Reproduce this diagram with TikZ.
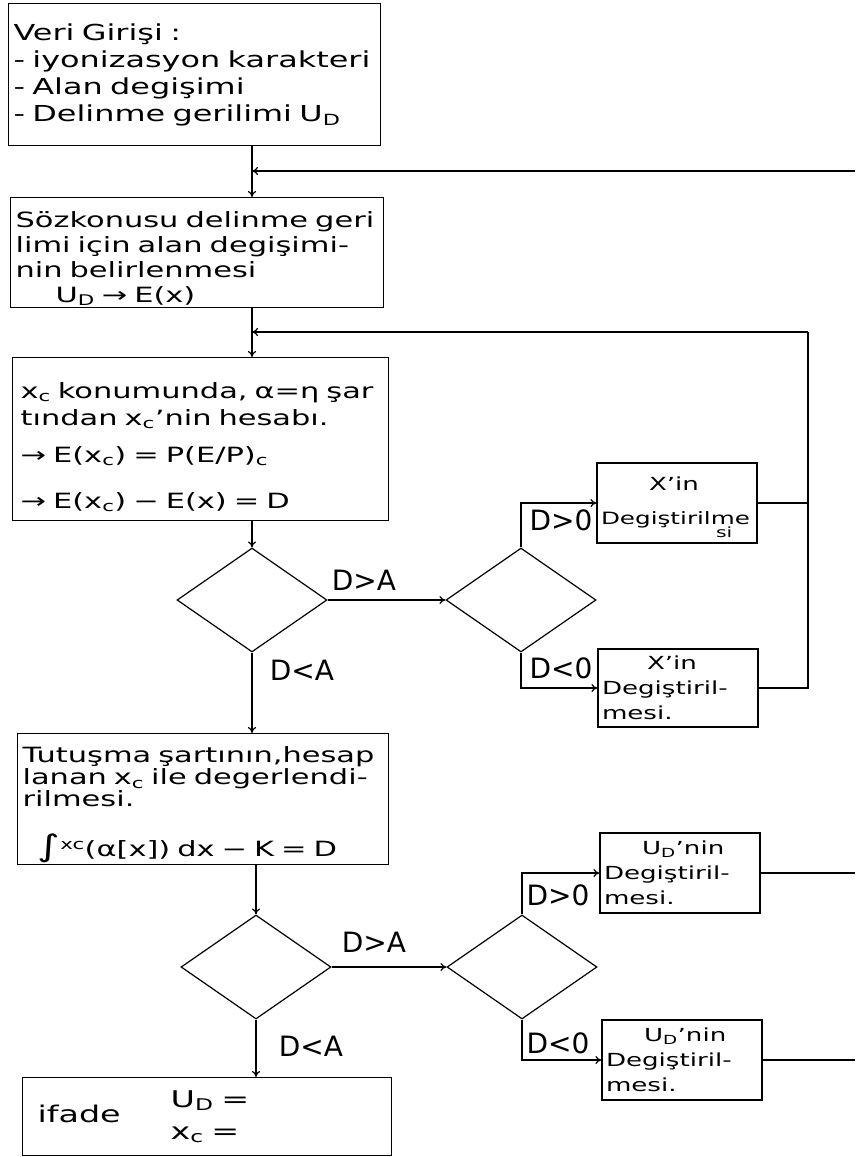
\documentclass[tikz,border=0pt]{standalone}
\usepackage{fontspec}
\setmainfont{DejaVu Sans}[FakeStretch=1.45]
\newfontfamily\etiketfont{DejaVu Sans}
\usetikzlibrary{arrows.meta}
\usetikzlibrary{shapes.geometric}

\begin{document}
\begin{tikzpicture}[x=1pt,y=-1pt,line width=1.2pt,
  kutu/.style={draw, rectangle, anchor=north west, align=left, inner xsep=5pt, inner ysep=0pt,
    font=\fontsize{21}{27}\selectfont},
  karar/.style={draw, diamond, minimum width=150pt, minimum height=104pt, inner sep=0pt},
  kucuk/.style={draw, rectangle, minimum width=160pt, minimum height=80pt, text width=152pt,
    align=left, inner sep=4pt, font=\fontsize{18}{25}\selectfont},
  etiket/.style={font=\etiketfont\fontsize{28}{28}\selectfont, inner sep=0pt},
  ok/.style={-{To[length=6pt,width=8pt]}}]
  \useasboundingbox (0,0) rectangle (855,1157);

  % kutular
  \node[kutu, minimum width=372pt, minimum height=142pt, text width=362pt,
    font=\fontsize{22}{27}\selectfont] (kutu1) at (8,3)
    {Veri Girişi :\\- iyonizasyon karakteri\\- Alan degişimi\\- Delinme gerilimi U\textsubscript{D}\\[4pt]};
  \node[kutu, minimum width=373pt, minimum height=110pt, text width=363pt,
    font=\fontsize{21}{25}\selectfont] (kutu2) at (10,197)
    {\rule{0pt}{28pt}Sözkonusu delinme geri\\limi için alan degişimi-\\nin belirlenmesi\\\hspace*{40pt}U\textsubscript{D} → E(x)};
  \node[kutu, minimum width=375pt, minimum height=163pt, text width=360pt, inner xsep=8pt] (kutu3) at (12,357)
    {\rule{0pt}{32pt}x\textsubscript{c} konumunda, α=η şar\\tından x\textsubscript{c}’nin hesabı.\\[10pt]
     → E(x\textsubscript{c}) = P(E/P)\textsubscript{c}\\[19pt]→ E(x\textsubscript{c}) − E(x) = D};
  \node[kutu, minimum width=371pt, minimum height=131pt, text width=361pt,
    font=\fontsize{21}{22}\selectfont] (kutu4) at (17,733)
    {\rule{0pt}{28pt}Tutuşma şartının,hesap\\lanan x\textsubscript{c} ile degerlendi-\\rilmesi.\\[26pt]
     \hspace*{15pt}{\fontsize{30}{30}\selectfont ∫}\textsuperscript{xc}(α[x]) dx − K = D};
  \node[kutu, minimum width=369pt, minimum height=78pt, text width=339pt, inner xsep=15pt,
    font=\fontsize{23}{32}\selectfont] (kutu5) at (22,1077)
    {ifade\hspace{50pt}\begin{tabular}[c]{@{}l@{}}U\textsubscript{D} =\\x\textsubscript{c} =\end{tabular}};

  % kararlar
  \node[karar] (k1) at (252,600) {};
  \node[karar] (k2) at (521,600) {};
  \node[karar] (k3) at (256,967) {};
  \node[karar] (k4) at (522,967) {};

  % degistirme kutulari
  \node[kucuk] (x1) at (677,503)
    {\rule{0pt}{22pt}\hspace*{48pt}X’in\\[9pt]{\fontsize{17}{25}\selectfont Degiştirilme}\\[-12pt]\hspace*{115pt}{\fontsize{14}{14}\selectfont si}};
  \node[kucuk, minimum height=78pt] (x2) at (678,688)
    {\hspace*{45pt}X’in\\Degiştiril-\\mesi.};
  \node[kucuk] (u1) at (680,873)
    {\hspace*{38pt}U\textsubscript{D}’nin\\Degiştiril-\\mesi.};
  \node[kucuk] (u2) at (682,1060)
    {\hspace*{38pt}U\textsubscript{D}’nin\\Degiştiril-\\mesi.};

  % etiketler
  \node[etiket] (a1) at (364,580) {D>A};
  \node[etiket] (b1) at (302,670) {D<A};
  \node[etiket] (c1) at (561,520) {D>0};
  \node[etiket] (e1) at (561,668) {D<0};
  \node[etiket] (a2) at (374,942) {D>A};
  \node[etiket] (b2) at (311,1046) {D<A};
  \node[etiket] (c2) at (558,895) {D>0};
  \node[etiket] (e2) at (558,1043) {D<0};

  % ana akis
  \draw[ok] (kutu1.south -| k1) -- (kutu2.north -| k1);
  \draw[ok] (kutu2.south -| k1) -- (kutu3.north -| k1);
  \draw[ok] (kutu3.south -| k1) -- (k1.north);
  \draw[ok] (k1.south) -- (kutu4.north -| k1);
  \draw[ok] (kutu4.south -| k3) -- (k3.north);
  \draw[ok] (k3.south) -- (kutu5.north -| k3);
  \draw[ok] (k1.east) -- (k2.west);
  \draw[ok] (k3.east) -- (k4.west);
  \draw[ok] (k2.north) |- (x1.west);
  \draw[ok] (k2.south) |- (x2.west);
  \draw[ok] (k4.north) |- (u1.west);
  \draw[ok] (k4.south) |- (u2.west);

  % geri donusler
  \coordinate (g1) at (855,171);
  \coordinate (g2) at (808,332);
  \draw[ok] (g1) -- (g1 -| k1);
  \draw (x1.east) -- (x1.east -| g2);
  \draw (x2.east) -| (g2);
  \draw[ok] (g2) -- (g2 -| k1);
  \draw (u1.east) -- (u1.east -| g1);
  \draw (u2.east) -- (u2.east -| g1);
\end{tikzpicture}
\end{document}
